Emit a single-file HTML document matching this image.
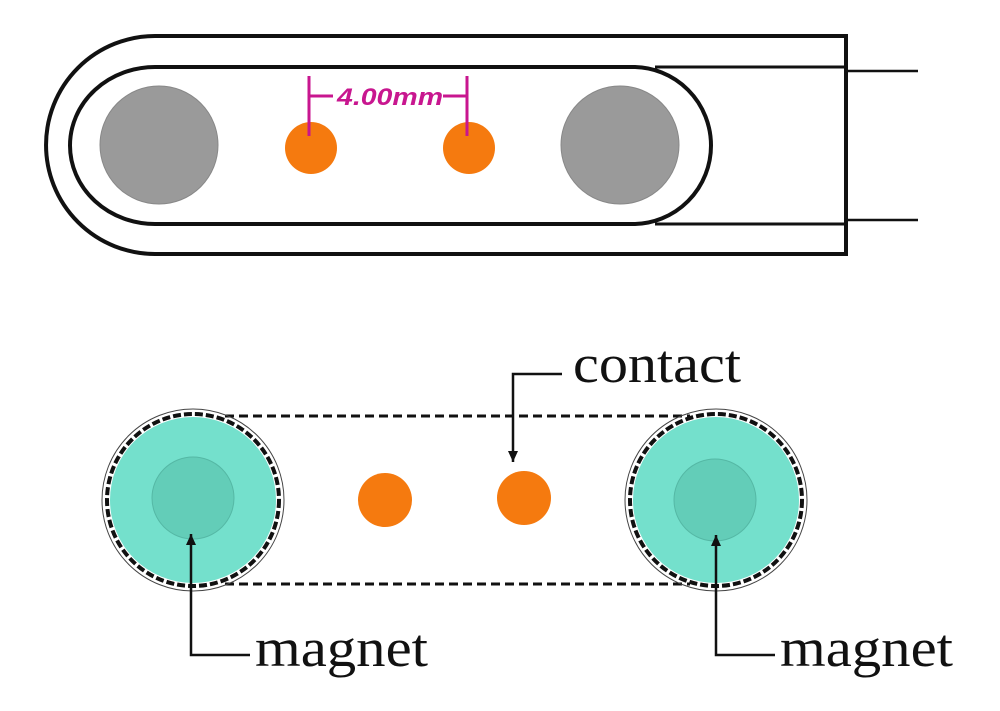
<!DOCTYPE html>
<html><head><style>html,body{margin:0;padding:0;background:#fff}svg{display:block}</style></head>
<body>
<svg width="1000" height="711" viewBox="0 0 1000 711" xmlns="http://www.w3.org/2000/svg">
<defs>
<marker id="ah" markerWidth="12" markerHeight="12" refX="11" refY="5" orient="auto" markerUnits="userSpaceOnUse">
<path d="M0,0 L11,5 L0,10 Z" fill="#111"/>
</marker>
</defs>
<!-- top diagram -->
<path d="M846,36 L155,36 A109,109 0 0 0 155,254 L846,254 Z" fill="none" stroke="#111" stroke-width="4"/>
<path d="M155,67 L633,67 A78,78.5 0 0 1 633,224 L155,224 A85,78.5 0 0 1 155,67 Z" fill="none" stroke="#111" stroke-width="4"/>
<line x1="655" y1="67" x2="846" y2="67" stroke="#111" stroke-width="3"/>
<line x1="655" y1="224" x2="846" y2="224" stroke="#111" stroke-width="3"/>
<line x1="846" y1="71" x2="918" y2="71" stroke="#111" stroke-width="2.5"/>
<line x1="846" y1="220" x2="918" y2="220" stroke="#111" stroke-width="2.5"/>
<circle cx="159" cy="145" r="59" fill="#9a9a9a" stroke="#888" stroke-width="1"/>
<circle cx="620" cy="145" r="59" fill="#9a9a9a" stroke="#888" stroke-width="1"/>
<circle cx="311" cy="148" r="26" fill="#f57a0f"/>
<circle cx="469" cy="148" r="26" fill="#f57a0f"/>
<g stroke="#c8168f" stroke-width="3">
<line x1="309" y1="76" x2="309" y2="136"/>
<line x1="467" y1="76" x2="467" y2="136"/>
<line x1="309" y1="96" x2="333" y2="96"/>
<line x1="443" y1="96" x2="467" y2="96"/>
</g>
<text x="337" y="105" textLength="106" lengthAdjust="spacingAndGlyphs" font-family="Liberation Sans, sans-serif" font-weight="bold" font-style="italic" font-size="24" fill="#c8168f">4.00mm</text>
<!-- bottom diagram -->
<line x1="225" y1="416" x2="690" y2="416" stroke="#111" stroke-width="3" stroke-dasharray="9,5"/>
<line x1="225" y1="584" x2="690" y2="584" stroke="#111" stroke-width="3" stroke-dasharray="9,5"/>
<g>
<circle cx="193" cy="500" r="91" fill="none" stroke="#444" stroke-width="1"/>
<circle cx="193" cy="500" r="86" fill="none" stroke="#111" stroke-width="4" stroke-dasharray="8,3"/>
<circle cx="193" cy="500" r="83" fill="#74e0cc"/>
<circle cx="193" cy="498" r="41" fill="#63cdb8" stroke="#55b8a5" stroke-width="1"/>
</g>
<g>
<circle cx="716" cy="500" r="91" fill="none" stroke="#444" stroke-width="1"/>
<circle cx="716" cy="500" r="86" fill="none" stroke="#111" stroke-width="4" stroke-dasharray="8,3"/>
<circle cx="716" cy="500" r="83" fill="#74e0cc"/>
<circle cx="715" cy="500" r="41" fill="#63cdb8" stroke="#55b8a5" stroke-width="1"/>
</g>
<circle cx="385" cy="500" r="27" fill="#f57a0f"/>
<circle cx="524" cy="498" r="27" fill="#f57a0f"/>
<polyline points="562,374 513,374 513,462" fill="none" stroke="#111" stroke-width="2.5" marker-end="url(#ah)"/>
<polyline points="250,655 191,655 191,534" fill="none" stroke="#111" stroke-width="2.5" marker-end="url(#ah)"/>
<polyline points="775,655 716,655 716,535" fill="none" stroke="#111" stroke-width="2.5" marker-end="url(#ah)"/>
<g font-family="Liberation Serif, serif" font-size="54" fill="#111" lengthAdjust="spacingAndGlyphs">
<text x="573" y="382" textLength="168" lengthAdjust="spacingAndGlyphs">contact</text>
<text x="255" y="666" textLength="173" lengthAdjust="spacingAndGlyphs">magnet</text>
<text x="780" y="666" textLength="173" lengthAdjust="spacingAndGlyphs">magnet</text>
</g>
</svg>
</body></html>
